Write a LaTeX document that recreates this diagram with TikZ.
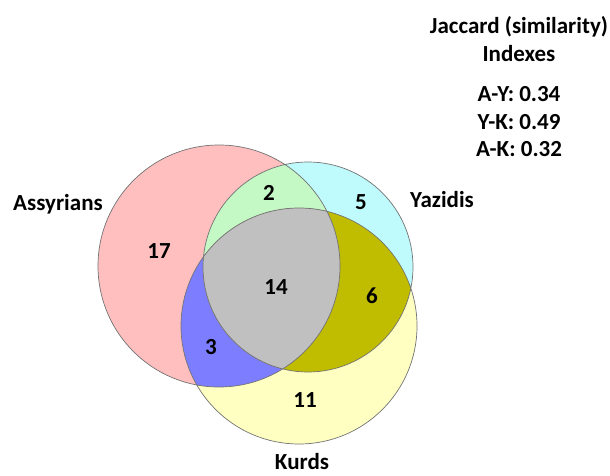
\documentclass[tikz,border=0pt]{standalone}
\usepackage{fontspec}
\setmainfont{Carlito}
\usetikzlibrary{positioning}

\definecolor{assycol}{RGB}{255,191,191}
\definecolor{yazcol}{RGB}{191,250,252}
\definecolor{kurdcol}{RGB}{255,255,194}
\definecolor{aycol}{RGB}{196,248,196}
\definecolor{akcol}{RGB}{125,125,255}
\definecolor{ykcol}{RGB}{192,188,0}
\definecolor{allcol}{RGB}{192,192,192}

\begin{document}
\begin{tikzpicture}[x=1pt,y=-1pt,
                set/.style={draw=black!55,line width=0.7pt},
                lbl/.style={font=\fontsize{23}{28}\selectfont\bfseries,inner sep=0pt}]

  \useasboundingbox (0,0) rectangle (610,476);
  \def\setA{(219,266) circle (121pt)}
  \def\setY{(308,267) circle (105pt)}
  \def\setK{(299,326) circle (118pt)}

  % the three sets
  \fill[assycol] \setA;
  \fill[yazcol]  \setY;
  \fill[kurdcol] \setK;

  % pairwise overlaps
  \begin{scope}
    \clip \setA;
    \fill[aycol] \setY;
    \fill[akcol] \setK;
  \end{scope}
  \begin{scope}
    \clip \setY;
    \fill[ykcol] \setK;
    \clip \setA;
    \fill[allcol] \setK;
  \end{scope}

  \draw[set] \setA \setY \setK;

  % counts
  \node[lbl] (n17) at (159,251) {17};
  \node[lbl] (n2)  at (269,193) {2};
  \node[lbl] (n5)  at (361,202) {5};
  \node[lbl] (n14) at (276,287) {14};
  \node[lbl] (n6)  at (372,296) {6};
  \node[lbl] (n3)  at (211,347) {3};
  \node[lbl] (n11) at (305,400) {11};

  % set names
  \node[lbl] (assy) at (58,204)  {Assyrians};
  \node[lbl] (yaz)  at (442,200) {Yazidis};
  \node[lbl] (kurd) at (302,462) {Kurds};

  % similarity indexes
  \node[lbl,align=center] (title) at (519,39) {Jaccard (similarity)\\Indexes};
  \node[lbl] (ay) at (519,94)  {A-Y: 0.34};
  \node[lbl] (yk) [below=12pt of ay] {Y-K: 0.49};
  \node[lbl] (ak) [below=12pt of yk] {A-K: 0.32};

\end{tikzpicture}
\end{document}
